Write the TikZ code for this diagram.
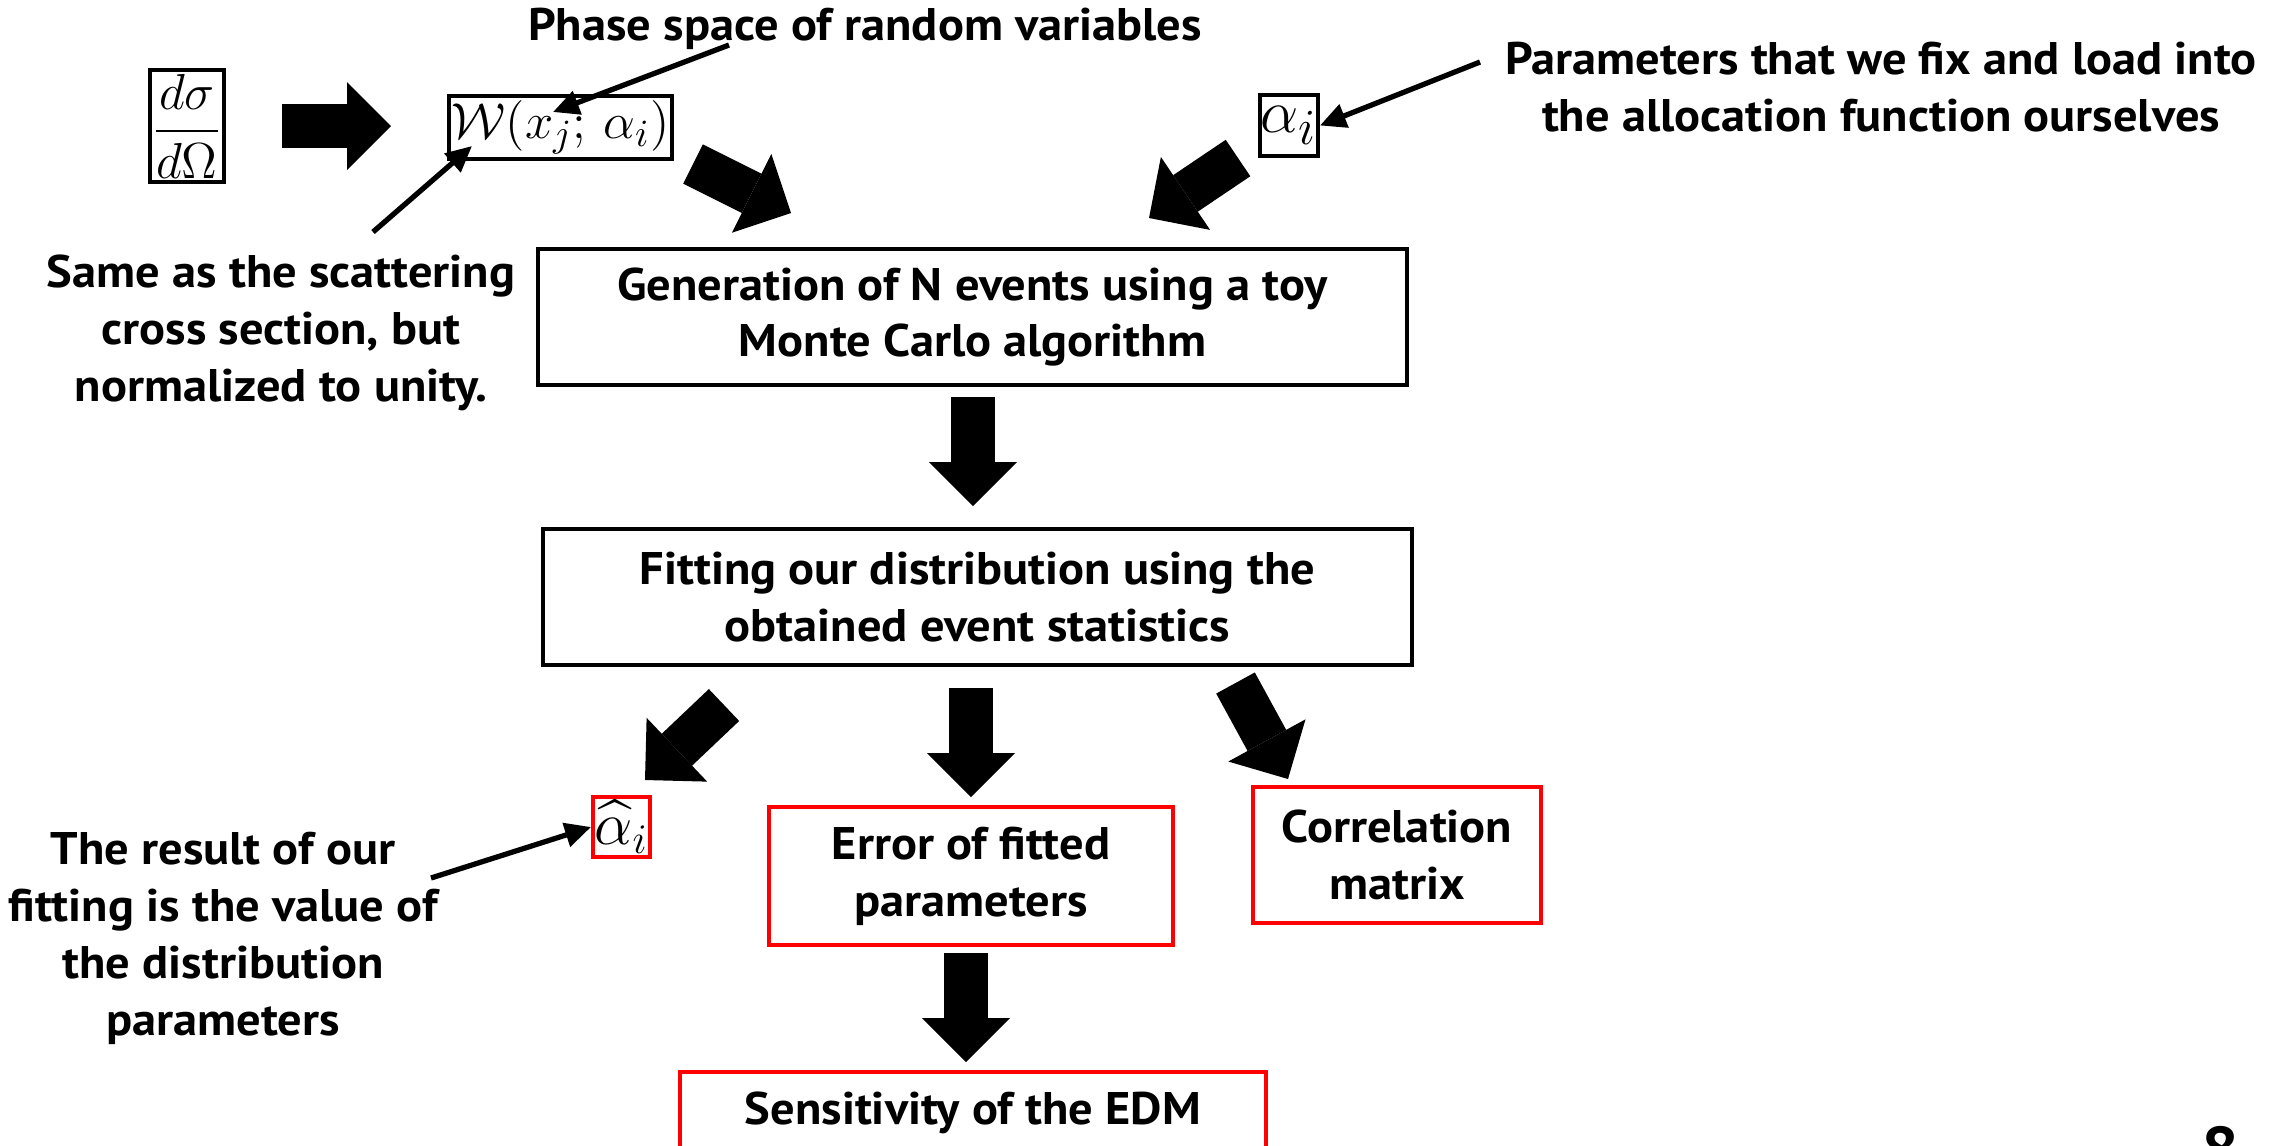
\documentclass[tikz,border=0pt]{standalone}
\usepackage{amsmath,amssymb}
\usepackage{fontspec}
\setmainfont[FakeStretch=1.06]{PT Sans}
\usetikzlibrary{arrows.meta,positioning}

\begin{document}
\begin{tikzpicture}[
      font=\fontsize{13}{16.2}\selectfont\bfseries,
      box/.style={rectangle, draw, line width=1.1pt, inner sep=0pt, align=center},
      redbox/.style={box, draw=red},
      mathbox/.style={box, font=\fontsize{15}{18}\selectfont},
      note/.style={align=center, inner sep=0pt},
      pointer/.style={line width=1.5pt, -{Triangle[length=2.6mm,width=2.4mm]}},
      bigarrow/.style={line width=4.4mm, -{Triangle[length=4.4mm,width=8.8mm,line width=0pt]}},
    ]
    \useasboundingbox (0,0) rectangle (22.87,-11.45);

    % input side
    \node[mathbox, font=\fontsize{15.5}{18}\selectfont, minimum width=7.4mm, minimum height=11.2mm] (xsec) at (1.87,-1.26) {$\dfrac{d\sigma}{d\Omega}$};
    \node[mathbox, minimum width=22.3mm, minimum height=6.3mm] (wfun) at (5.605,-1.275) {$\mathcal{W}(x_j;\,\alpha_i)$};
    \node[mathbox, font=\fontsize{19}{22}\selectfont, minimum width=5.8mm, minimum height=6.1mm] (alpha) at (12.89,-1.255) {$\alpha_i$};
    \node[note] (phase) at (8.65,-0.29) {Phase space of random variables};
    \node[note] (params) at (18.81,-0.87) {Parameters that we fix and load into\\the allocation function ourselves};
    \node[note] (same) at (2.81,-3.33) {Same as the scattering\\cross section, but\\normalized to unity.};

    % chain
    \node[box, minimum width=86.9mm, minimum height=13.6mm] (gen) at (9.725,-3.17) {Generation of N events using a toy\\Monte Carlo algorithm};
    \node[box, minimum width=86.9mm, minimum height=13.6mm] (fit) at (9.775,-5.97) {Fitting our distribution using the\\obtained event statistics};

    % results
    \node[redbox, font=\fontsize{17}{20}\selectfont, minimum width=5.7mm, minimum height=6.0mm] (alphahat) at (6.215,-8.27) {$\widehat{\alpha}_i$};
    \node[redbox, minimum width=40.4mm, minimum height=13.8mm] (err) at (9.71,-8.76) {Error of fitted\\parameters};
    \node[redbox, minimum width=28.8mm, minimum height=13.6mm] (corr) at (13.97,-8.55) {Correlation\\matrix};
    \node[redbox, minimum width=58.6mm, minimum height=8.2mm] (sens) at (9.73,-11.13) {Sensitivity of the EDM};
    \node[note] (result) at (2.23,-9.38) {The result of our\\fitting is the value of\\the distribution\\parameters};
    \node[note, font=\fontsize{18}{20}\selectfont\bfseries, anchor=north] (pagenum) at (22.20,-11.26) {8};

    % block arrows
    \coordinate (a1s) at (2.82,-1.26);  \coordinate (a1e) at (3.91,-1.26);
    \coordinate (a2s) at (6.93,-1.64);  \coordinate (a2e) at (7.91,-2.13);
    \coordinate (a3s) at (12.38,-1.58); \coordinate (a3e) at (11.49,-2.18);
    \coordinate (a4s) at (9.73,-3.97);  \coordinate (a4e) at (9.73,-5.06);
    \coordinate (a5s) at (7.24,-7.05);  \coordinate (a5e) at (6.45,-7.80);
    \coordinate (a6s) at (9.71,-6.88);  \coordinate (a6e) at (9.71,-7.97);
    \coordinate (a7s) at (12.355,-6.83);\coordinate (a7e) at (12.88,-7.79);
    \coordinate (a8s) at (9.66,-9.53);  \coordinate (a8e) at (9.66,-10.62);
    \foreach \n in {1,...,8}
      \draw[bigarrow] (a\n s) -- (a\n e);

    % pointers
    \coordinate (phasetail) at (7.29,-0.45);
    \coordinate (phasetip) at (5.53,-1.12);
    \coordinate (sametail) at (3.73,-2.32);
    \coordinate (sametip) at (4.72,-1.46);
    \coordinate (paramtail) at (14.80,-0.62);
    \coordinate (resulttail) at (4.31,-8.78);
    \draw[pointer] (phasetail) -- (phasetip);
    \draw[pointer] (sametail) -- (sametip);
    \draw[pointer] (paramtail) -- (alpha.east);
    \draw[pointer] (resulttail) -- (alphahat.west);
  \end{tikzpicture}
\end{document}
